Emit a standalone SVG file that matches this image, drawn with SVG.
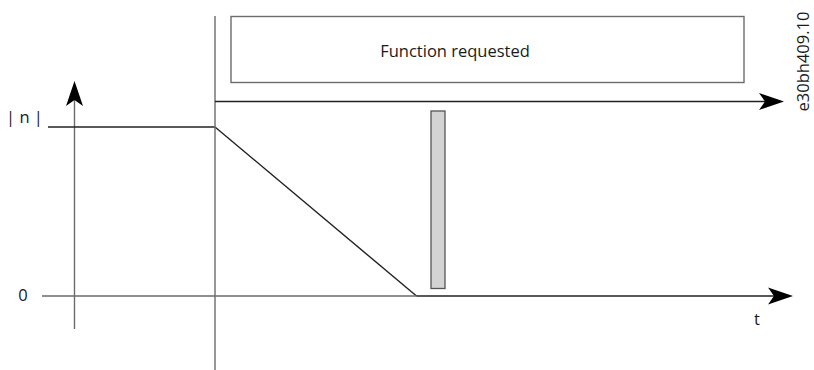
<svg xmlns="http://www.w3.org/2000/svg" width="814" height="370" viewBox="0 0 814 370">
<style>
text{font-family:"Open Sans","Liberation Sans",sans-serif;fill:#1a1a1a;font-size:16.5px}
.ln{fill:none;stroke-width:1.4}
.k{stroke:#222}
.g{stroke:#6b6b6b}
</style>
<defs>
<path id="ah" d="M0,0 L-25,-8.5 L-19,0 L-25,8.5 Z" fill="#000"/>
</defs>
<rect width="814" height="370" fill="#fff"/>
<g id="connectors">
<line class="ln g" x1="74.5" y1="100" x2="74.5" y2="329"/>
<use href="#ah" transform="translate(74.5,81) rotate(-90)"/>
<line class="ln k" x1="48" y1="127" x2="215" y2="127"/>
<line class="ln k" x1="215" y1="127" x2="416.5" y2="296"/>
<line class="ln g" x1="215" y1="16" x2="215" y2="370"/>
<line class="ln g" x1="42" y1="296" x2="416.5" y2="296"/>
<line class="ln k" x1="416.5" y1="296" x2="776" y2="296"/>
<use href="#ah" transform="translate(793,296)"/>
<line class="ln k" x1="215" y1="101.5" x2="768" y2="101.5"/>
<use href="#ah" transform="translate(784,101.5)"/>
</g>
<g id="function-box">
<rect x="231" y="16.5" width="513" height="66" fill="#fff" stroke="#6b6b6b" stroke-width="1.4"/>
<text x="455" y="57" text-anchor="middle">Function requested</text>
</g>
<g id="bar">
<rect x="431" y="111" width="14" height="177.5" fill="#d3d3d3" stroke="#555" stroke-width="1.3"/>
</g>
<g id="labels">
<text x="24.5" y="123" text-anchor="middle" font-size="15.5">| n |</text>
<text x="23" y="301" text-anchor="middle">0</text>
<text x="757" y="325" text-anchor="middle">t</text>
<text transform="translate(809,61.5) rotate(-90)" text-anchor="middle" font-size="13.5">e30bh409.10</text>
</g>
</svg>
